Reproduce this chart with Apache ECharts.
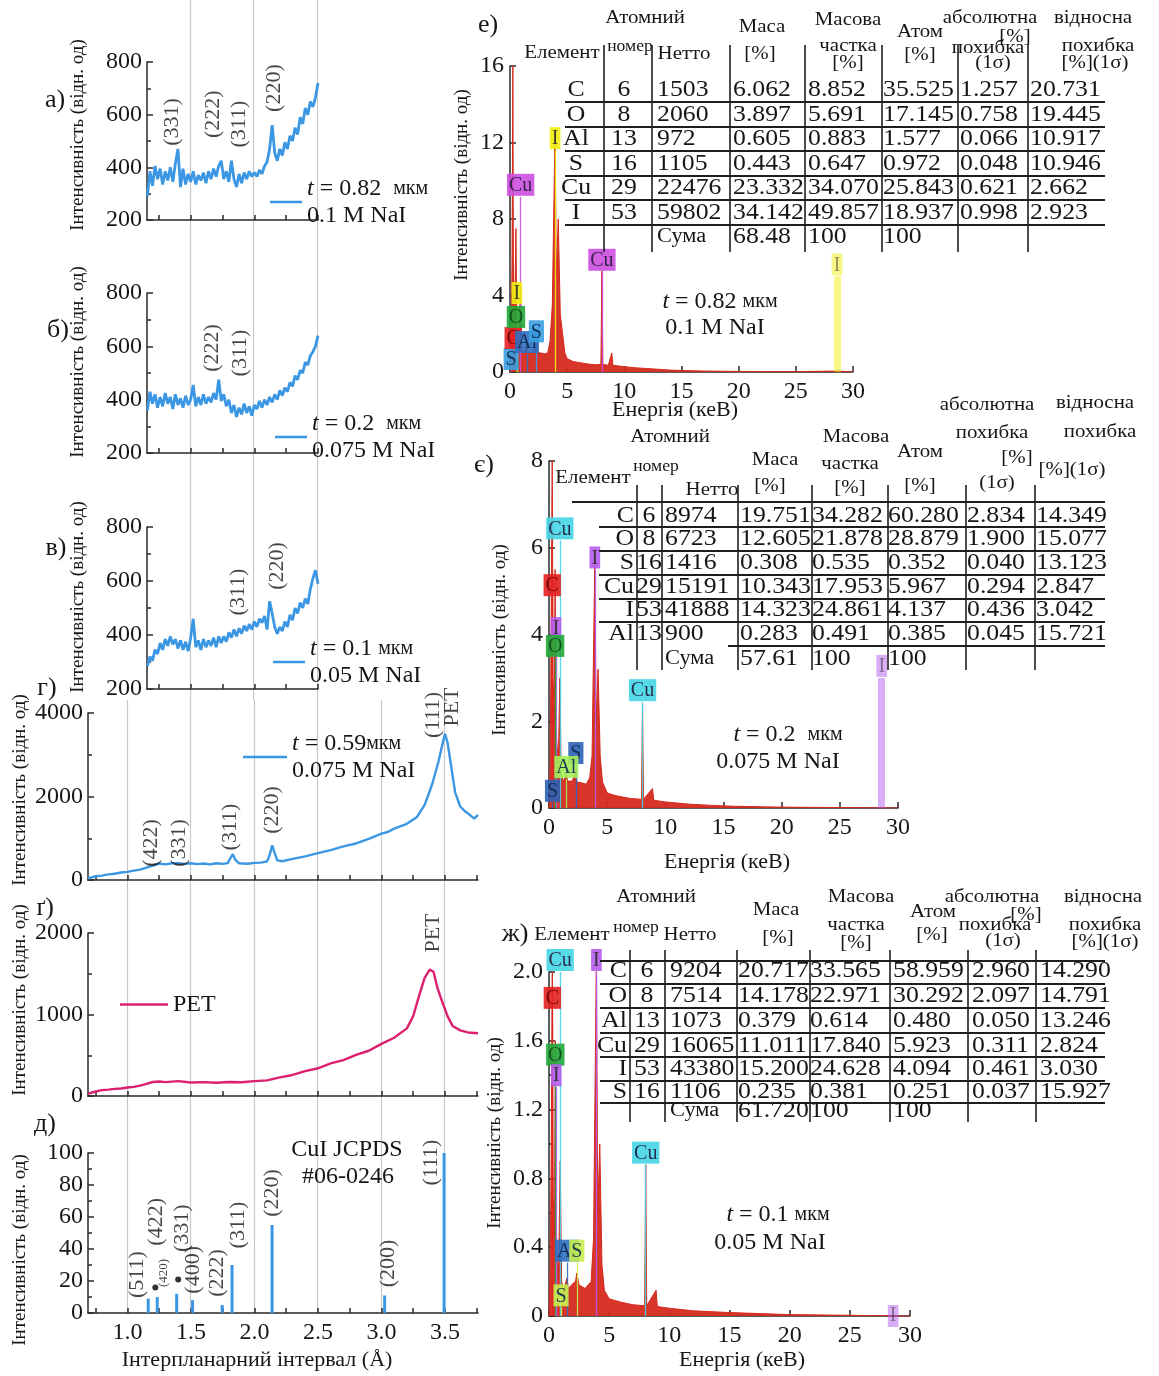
<!DOCTYPE html>
<html>
<head>
<meta charset="utf-8">
<script src="https://cdn.jsdelivr.net/npm/echarts@6/dist/echarts.min.js"></script>
<style>
html,body{margin:0;padding:0;background:#fff;}
#chart{width:1159px;height:1376px;}
</style>
</head>
<body>
<div id="chart"></div>
<script>
// ---------- XRD data (interplanar spacing d, Å) ----------
// films t = 0.82 / 0.2 / 0.1 µm are sampled on a regular d grid
const dGridStart = 1.16, dGridStep = 0.02;
const xrd082 = [290,385,330,405,355,395,335,385,350,400,345,415,470,325,395,335,375,345,385,335,
  370,350,380,340,385,355,395,365,405,425,355,385,345,425,355,325,375,340,380,355,
  385,365,380,365,390,375,405,420,470,560,455,425,470,445,495,470,520,500,550,525,
  590,565,625,600,650,630,665,720];
const xrd02 = [360,430,385,420,370,410,375,425,385,410,365,420,380,405,370,415,380,400,455,375,
  410,380,420,385,410,390,425,400,475,395,420,375,400,350,380,335,370,345,385,350,
  375,340,380,365,395,370,400,380,410,390,420,400,435,415,445,430,465,450,490,475,
  510,500,540,530,565,580,600,640];
const xrd01 = [285,320,305,345,330,370,345,385,360,395,365,385,350,380,345,375,340,390,460,355,
  380,345,385,355,380,360,390,355,395,370,395,375,410,390,420,395,425,405,435,415,
  440,420,450,430,460,445,470,420,525,480,430,405,430,415,450,430,475,455,500,480,
  520,500,535,515,570,610,640,590];
// film t = 0.59 µm and bare PET substrate
const xrd059 = [[0.69,40],[0.75,90],[0.80,105],[0.85,135],[0.90,150],[0.95,180],[1.00,195],[1.05,225],
  [1.10,250],[1.15,295],[1.20,345],[1.25,395],[1.30,375],[1.35,400],[1.40,405],[1.45,385],[1.50,400],
  [1.55,380],[1.60,395],[1.65,375],[1.70,400],[1.75,385],[1.79,405],[1.81,520],[1.83,620],[1.85,480],
  [1.88,400],[1.95,390],[2.00,410],[2.05,415],[2.10,445],[2.12,600],[2.14,830],[2.16,640],[2.18,470],
  [2.22,450],[2.30,505],[2.40,565],[2.50,645],[2.60,715],[2.70,805],[2.80,875],[2.90,985],[3.00,1110],
  [3.05,1150],[3.10,1230],[3.20,1345],[3.28,1510],[3.34,1800],[3.40,2300],[3.45,2850],[3.48,3250],
  [3.50,3500],[3.52,3300],[3.55,2700],[3.58,2100],[3.62,1760],[3.66,1640],[3.70,1550],[3.73,1470],[3.76,1560]];
const xrdPET = [[0.69,30],[0.75,55],[0.80,72],[0.85,78],[0.90,88],[0.95,92],[1.00,105],[1.05,112],
  [1.10,128],[1.15,148],[1.20,172],[1.25,178],[1.30,170],[1.40,182],[1.50,166],[1.60,170],[1.70,162],
  [1.80,172],[1.90,168],[2.00,182],[2.10,192],[2.20,228],[2.30,258],[2.40,305],[2.50,340],[2.60,400],
  [2.70,440],[2.80,505],[2.90,555],[3.00,640],[3.10,715],[3.20,830],[3.25,980],[3.30,1250],[3.34,1450],
  [3.38,1550],[3.41,1525],[3.44,1330],[3.48,1150],[3.52,980],[3.56,860],[3.62,805],[3.68,780],[3.76,770]];
// CuI reference pattern JCPDS #06-0246
const cuiD = [1.164,1.235,1.388,1.513,1.746,1.824,2.139,3.025,3.493];
const cuiI = [9,10,12,8,5,30,55,11,100];
const cuiDots = [[1.22,16],[1.40,21]];

// Miller-index labels: [d, intensity, text]
const peaks082 = [[1.354,572,'(331)'],[1.677,602,'(222)'],[1.882,564,'(311)'],[2.157,701,'(220)']];
const peaks02 = [[1.669,594,'(222)'],[1.890,575,'(311)']];
const peaks01 = [[1.874,559,'(311)'],[2.180,656,'(220)']];
const peaks059 = [[1.185,886,'(422)'],[1.410,886,'(331)'],[1.811,1269,'(311)'],[2.142,1677,'(220)'],[3.410,3952,'(111)'],[3.560,4143,'PET']];
const peaksPET = [[3.410,2000,'PET']];
const peaksCuI = [[1.079,24,'(511)'],[1.228,57,'(422)'],[1.430,53,'(331)'],[1.520,27,'(400)'],[1.710,25,'(222)'],[1.870,55,'(311)'],[2.140,75,'(220)'],[3.050,31,'(200)'],[3.390,94,'(111)']];
const peaksCuISmall = [[1.283,25,'(420)']];

// axis ticks
const dTicksTop = [1.25,1.5,1.75,2.0,2.25,2.5];
const dTicksFull = [0.75,1.0,1.25,1.5,1.75,2.0,2.25,2.5,2.75,3.0,3.25,3.5,3.75];
const dLabelsFull = [1.0,1.5,2.0,2.5,3.0,3.5];

// ---------- EDX spectra [energy keV, intensity] ----------
const edx082 = [[0,0],[0.1,1.5],[0.18,6],[0.25,16.2],[0.3,5],[0.4,2.5],[0.52,7.5],[0.6,2.2],[0.75,1.4],
  [0.93,4.5],[1.02,1.2],[1.2,0.9],[1.49,1.6],[1.6,1.0],[1.8,1.0],[2.0,1.05],[2.31,1.5],[2.4,1.0],[2.7,1.0],
  [3.0,0.95],[3.3,1.0],[3.5,1.6],[3.7,3.5],[3.94,12.6],[4.05,5.0],[4.22,8.0],[4.4,3.0],[4.6,2.0],[4.8,1.0],
  [5.0,0.7],[5.5,0.55],[6,0.5],[6.5,0.45],[7,0.4],[7.6,0.38],[7.95,0.4],[8.04,5.3],[8.12,0.4],[8.6,0.35],
  [8.9,1.0],[9.0,0.35],[10,0.28],[11,0.22],[12,0.18],[13,0.14],[14,0.1],[15,0.08],[17,0.05],[20,0.03],
  [25,0.02],[28.6,0.05],[30,0.01]];
const edx02 = [[0,0],[0.1,1],[0.18,4],[0.277,8.2],[0.35,3],[0.45,2],[0.525,5.5],[0.6,1.8],[0.8,1.0],
  [0.93,3.0],[1.05,0.8],[1.2,0.6],[1.49,0.8],[1.6,0.62],[2.0,0.62],[2.31,0.85],[2.4,0.6],[2.8,0.58],
  [3.2,0.55],[3.5,0.7],[3.7,1.2],[3.94,5.7],[4.05,2.0],[4.22,3.2],[4.4,1.2],[4.6,0.6],[5.0,0.35],[5.5,0.3],
  [6,0.27],[7,0.22],[7.95,0.2],[8.04,2.4],[8.12,0.2],[8.9,0.45],[9.0,0.18],[10,0.14],[12,0.09],[14,0.06],
  [16,0.04],[20,0.02],[25,0.01],[30,0]];
const edx01 = [[0,0],[0.1,0.3],[0.18,0.9],[0.277,2.1],[0.35,0.7],[0.45,0.45],[0.525,1.6],[0.6,0.4],
  [0.8,0.25],[0.93,0.9],[1.05,0.2],[1.2,0.15],[1.49,0.22],[1.6,0.16],[2.0,0.19],[2.2,0.2],[2.31,0.25],
  [2.5,0.18],[3.0,0.16],[3.5,0.2],[3.7,0.45],[3.94,2.1],[4.05,0.6],[4.22,1.0],[4.4,0.3],[4.6,0.15],
  [5.0,0.1],[6,0.08],[7,0.065],[7.95,0.06],[8.04,0.88],[8.12,0.06],[8.9,0.15],[9.0,0.055],[10,0.045],
  [12,0.03],[15,0.02],[20,0.008],[25,0.004],[30,0]];

// element markers: [element, line energy keV, marker height]
const marks082 = [['S',0.10,0.05],['C',0.28,1.15],['Al',1.49,0.94],['S',2.31,1.5],['O',0.52,2.25],
  ['I',0.60,3.5],['Cu',0.93,9.16],['I',3.94,11.6],['Cu',8.04,5.24],['I',28.6,5.0]];
const marks02 = [['Cu',0.93,6.17],['I',3.94,5.5],['C',0.277,4.86],['I',0.60,3.87],['O',0.525,3.46],
  ['Cu',8.04,2.44],['S',2.31,0.99],['Al',1.49,0.67],['S',0.30,0.12],['I',28.6,3.0]];
const marks01 = [['Cu',0.93,2.0],['I',3.94,2.0],['C',0.277,1.78],['O',0.525,1.45],['I',0.60,1.33],
  ['Cu',8.04,0.88],['Al',1.49,0.31],['S',2.31,0.31],['S',1.0,0.05],['I',28.6,0]];

// composition tables
const tableHead = ['Елемент','Атомний','номер','Нетто','Маса','[%]','Масова','частка','[%]','Атом','[%]',
  'абсолютна','похибка','[%]','(1σ)','відносна','похибка','[%](1σ)'];
const table082 = [
  ['C','6','1503','6.062','8.852','35.525','1.257','20.731'],
  ['O','8','2060','3.897','5.691','17.145','0.758','19.445'],
  ['Al','13','972','0.605','0.883','1.577','0.066','10.917'],
  ['S','16','1105','0.443','0.647','0.972','0.048','10.946'],
  ['Cu','29','22476','23.332','34.070','25.843','0.621','2.662'],
  ['I','53','59802','34.142','49.857','18.937','0.998','2.923'],
  ['','','Сума','68.48','100','100','','']];
const table02 = [
  ['C','6','8974','19.751','34.282','60.280','2.834','14.349'],
  ['O','8','6723','12.605','21.878','28.879','1.900','15.077'],
  ['S','16','1416','0.308','0.535','0.352','0.040','13.123'],
  ['Cu','29','15191','10.343','17.953','5.967','0.294','2.847'],
  ['I','53','41888','14.323','24.861','4.137','0.436','3.042'],
  ['Al','13','900','0.283','0.491','0.385','0.045','15.721'],
  ['','','Сума','57.61','100','100','','']];
const table01 = [
  ['C','6','9204','20.717','33.565','58.959','2.960','14.290'],
  ['O','8','7514','14.178','22.971','30.292','2.097','14.791'],
  ['Al','13','1073','0.379','0.614','0.480','0.050','13.246'],
  ['Cu','29','16065','11.011','17.840','5.923','0.311','2.824'],
  ['I','53','43380','15.200','24.628','4.094','0.461','3.030'],
  ['S','16','1106','0.235','0.381','0.251','0.037','15.927'],
  ['','','Сума','61.720','100','100','','']];

// ---------- styling ----------
const SERIF = '"Liberation Serif","Times New Roman","DejaVu Serif",serif';
const INK = '#161616';
const BLUE = '#3b97e3';
const PINK = '#dc1f6e';
const SPEC = '#d52a1e';
const AX = {color:'#2a2a2a', width:1.5};
const GRIDLINE = {color:'#c9c9c9', width:1.2};
const plain = v => String(v);

const grids = [], xAxes = [], yAxes = [], series = [], legends = [];
function addGrid(left, top, width, height){
  grids.push({left, top, width, height, containLabel:false});
  return grids.length - 1;
}

// light vertical d-spacing guides running through the XRD column
const gTop = addGrid(190, 0, 127, 700);
xAxes.push({type:'value', gridIndex:gTop, min:1.5, max:2.5, interval:0.5, axisLine:{show:false}, axisTick:{show:false},
  axisLabel:{show:false}, splitLine:{show:true, showMinLine:true, showMaxLine:true, lineStyle:GRIDLINE}});
yAxes.push({type:'value', gridIndex:gTop, show:false});
const gLow = addGrid(63.5, 700, 444.5, 613);
xAxes.push({type:'value', gridIndex:gLow, min:0.5, max:4.0, interval:0.5, axisLine:{show:false}, axisTick:{show:false},
  axisLabel:{show:false}, splitLine:{show:true, showMinLine:false, showMaxLine:false, lineStyle:GRIDLINE}});
yAxes.push({type:'value', gridIndex:gLow, show:false});

function xrdX(gi, min, max, ticks, labels){
  return {type:'value', gridIndex:gi, min, max,
    axisLine:{show:true, onZero:false, lineStyle:AX},
    axisTick:{show:true, inside:true, length:5, customValues:ticks, lineStyle:AX},
    axisLabel: labels ? {show:true, customValues:labels, formatter:v => v.toFixed(1), fontFamily:SERIF, fontSize:24, color:INK, margin:8}
                      : {show:false},
    splitLine:{show:false}};
}
function xrdY(gi, min, max, interval){
  return {type:'value', gridIndex:gi, min, max, interval,
    axisLine:{show:true, lineStyle:AX},
    axisTick:{show:true, inside:true, length:6, lineStyle:AX},
    minorTick:{show:true, splitNumber:2, length:4, lineStyle:AX},
    axisLabel:{fontFamily:SERIF, fontSize:24, color:INK, margin:5, formatter:plain},
    splitLine:{show:false}};
}
function peakLabels(gi, list, size){
  return {type:'scatter', xAxisIndex:gi, yAxisIndex:gi, clip:false, silent:true, symbolSize:1,
    itemStyle:{color:'rgba(0,0,0,0)'},
    data:list.map(p => ({value:[p[0], p[1]], name:p[2]})),
    label:{show:true, position:'inside', rotate:90, formatter:'{b}', fontFamily:SERIF, fontSize:size || 22, color:INK},
    z:5};
}
const gridPts = vals => vals.map((v, i) => [+(dGridStart + i * dGridStep).toFixed(2), v]);
function xrdLine(gi, name, data, color, w){
  return {type:'line', name, xAxisIndex:gi, yAxisIndex:gi, data, showSymbol:false, silent:true,
    lineStyle:{color, width:w || 2.2}, itemStyle:{color}, z:3};
}
const legendRich = {
  i:{fontFamily:SERIF, fontSize:24, fontStyle:'italic', color:INK, lineHeight:27},
  s:{fontFamily:SERIF, fontSize:20, color:INK, lineHeight:27},
  n:{fontFamily:SERIF, fontSize:24, color:INK, lineHeight:27}
};
function addLegend(seriesName, left, top, width, text){
  legends.push({data:[seriesName], left, top, icon:'rect', itemWidth:width, itemHeight:2.5, selectedMode:false,
    formatter:() => text,
    textStyle:{fontFamily:SERIF, fontSize:24, color:INK, lineHeight:27, rich:legendRich}});
}

// а) t = 0.82 µm
const gA = addGrid(147, 62, 171, 158);
xAxes.push(xrdX(gA, 1.157, 2.5, dTicksTop, null));
yAxes.push(xrdY(gA, 200, 800, 200));
series.push(xrdLine(gA, 'f082', gridPts(xrd082), BLUE, 2.8));
series.push(peakLabels(gA, peaks082));
addLegend('f082', 265, 170, 32, '{i|t} = 0.82  {s|мкм}\n{n|0.1 M NaI}');

// б) t = 0.2 µm
const gB = addGrid(147, 293, 171, 160);
xAxes.push(xrdX(gB, 1.157, 2.5, dTicksTop, null));
yAxes.push(xrdY(gB, 200, 800, 200));
series.push(xrdLine(gB, 'f02', gridPts(xrd02), BLUE, 2.8));
series.push(peakLabels(gB, peaks02));
addLegend('f02', 270, 405, 32, '{i|t} = 0.2  {s|мкм}\n{n|0.075 M NaI}');

// в) t = 0.1 µm
const gC = addGrid(147, 527, 171, 162);
xAxes.push(xrdX(gC, 1.157, 2.5, dTicksTop, null));
yAxes.push(xrdY(gC, 200, 800, 200));
series.push(xrdLine(gC, 'f01', gridPts(xrd01), BLUE, 2.8));
series.push(peakLabels(gC, peaks01));
addLegend('f01', 268, 630, 32, '{i|t} = 0.1 {s|мкм}\n{n|0.05 M NaI}');

// г) t = 0.59 µm
const gD = addGrid(88, 713, 390, 167);
xAxes.push(xrdX(gD, 0.69, 3.76, dTicksFull, null));
yAxes.push(xrdY(gD, 0, 4000, 2000));
series.push(xrdLine(gD, 'f059', xrd059, BLUE, 2.4));
series.push(peakLabels(gD, peaks059));
addLegend('f059', 238, 725, 44, '{i|t} = 0.59{s|мкм}\n{n|0.075 M NaI}');

// ґ) PET substrate
const gE = addGrid(88, 933, 390, 163);
xAxes.push(xrdX(gE, 0.69, 3.76, dTicksFull, null));
yAxes.push(xrdY(gE, 0, 2000, 1000));
series.push(xrdLine(gE, 'pet', xrdPET, PINK, 2.4));
series.push(peakLabels(gE, peaksPET));
addLegend('pet', 115, 986, 48, '{n|PET}');

// д) CuI stick pattern
const gF = addGrid(88, 1153, 390, 160);
xAxes.push(xrdX(gF, 0.69, 3.76, dTicksFull, dLabelsFull));
yAxes.push(xrdY(gF, 0, 100, 20));
series.push({type:'bar', xAxisIndex:gF, yAxisIndex:gF, silent:true, barWidth:3,
  data:cuiD.map((d, i) => [d, cuiI[i]]), itemStyle:{color:BLUE}, z:3});
series.push({type:'scatter', xAxisIndex:gF, yAxisIndex:gF, silent:true, symbolSize:6, data:cuiDots, itemStyle:{color:'#000'}, z:6});
series.push(peakLabels(gF, peaksCuI));
series.push(peakLabels(gF, peaksCuISmall, 13));

// ---------- EDX panels ----------
const pal082 = {S:'#3a9ee0', C:'#e42020', Al:'#2f6fc0', O:'#22a83a', I:'#f2ee10', Cu:'#cc4fe0'};
const pal02  = {S:'#2c62b4', C:'#e42020', Al:'#a5ef5a', O:'#22a83a', I:'#b65cf0', Cu:'#45d6e6'};
const pal01  = {S:'#c9ef4e', C:'#e42020', Al:'#2f6fc0', O:'#22a83a', I:'#b65cf0', Cu:'#45d6e6'};
const markText = {S:'#0c2850', C:'#6a0000', Al:'#0c2850', O:'#0b4a16', I:'#2a2a2a', Cu:'#24183a'};

function edxAxes(gi, yMax, yInt, yFmt, minor){
  xAxes.push({type:'value', gridIndex:gi, min:0, max:30, interval:5,
    axisLine:{show:true, onZero:false, lineStyle:AX},
    axisTick:{show:true, inside:true, length:6, lineStyle:AX},
    axisLabel:{fontFamily:SERIF, fontSize:24, color:INK, margin:8},
    splitLine:{show:false}});
  yAxes.push({type:'value', gridIndex:gi, min:0, max:yMax, interval:yInt,
    axisLine:{show:true, lineStyle:AX},
    axisTick:{show:true, inside:true, length:6, lineStyle:AX},
    minorTick:{show:!!minor, splitNumber:2, length:4, lineStyle:AX},
    axisLabel:{fontFamily:SERIF, fontSize:24, color:INK, margin:6, formatter:yFmt || plain},
    splitLine:{show:false}});
}
function edxSeries(gi, data, marks, pal){
  return {type:'line', xAxisIndex:gi, yAxisIndex:gi, data, showSymbol:false, silent:true,
    lineStyle:{color:SPEC, width:1}, areaStyle:{color:SPEC, opacity:0.95}, z:2,
    markLine:{silent:true, symbol:['none','none'], animation:false,
      data:marks.map(([el, e, h]) => {
        const wide = e > 20;
        return [{coord:[e, 0],
          lineStyle:{color:pal[el], width:wide ? 7 : 1.3, opacity:wide ? 0.5 : 0.9, type:'solid'},
          label:{show:true, position:'end', distance:1, formatter:el, backgroundColor:pal[el],
            color:markText[el], padding:[2,2,0,2], fontFamily:SERIF, fontSize:20, lineHeight:20}},
          {coord:[e, h]}];
      })}};
}
// е) t = 0.82 µm
const gG = addGrid(510, 66, 343, 306);
edxAxes(gG, 16, 4, null, false);
series.push(edxSeries(gG, edx082, marks082, pal082));
// є) t = 0.2 µm
const gH = addGrid(549, 461, 349, 347);
edxAxes(gH, 8, 2, null, false);
series.push(edxSeries(gH, edx02, marks02, pal02));
// ж) t = 0.1 µm
const gI = addGrid(549, 972, 361, 344);
edxAxes(gI, 2, 0.4, v => v === 0 ? '0' : v.toFixed(1), true);
series.push(edxSeries(gI, edx01, marks01, pal01));

// ---------- free text and tables ----------
const G = [];
function txt(x, y, text, o){
  o = o || {};
  G.push({type:'text', x, y, rotation:o.rot || 0, scaleX:o.sx || 1, silent:true, z:10,
    style:{text, fontFamily:SERIF, fontSize:o.size || 22, fontStyle:o.italic ? 'italic' : 'normal',
      fill:INK, align:o.align || 'center', verticalAlign:'middle', rich:o.rich}});
}
function hline(x1, x2, y, w){ G.push({type:'line', silent:true, z:9, shape:{x1, y1:y, x2, y2:y}, style:{stroke:'#1e1e1e', lineWidth:w || 2.2}}); }
function vline(x, y1, y2){ G.push({type:'line', silent:true, z:9, shape:{x1:x, y1, x2:x, y2}, style:{stroke:'#1e1e1e', lineWidth:1.6}}); }

// panel letters
[['а)',55,100],['б)',58,330],['в)',56,548],['г)',47,688],['ґ)',45,908],['д)',45,1124],['е)',488,25],['є)',484,465]]
  .forEach(([t, x, y]) => txt(x, y, t, {size:26}));

// axis titles
const yTitle = 'Інтенсивність (відн. од)';
[[78,135],[78,362],[78,597],[20,790],[20,1000],[20,1250],[462,185],[500,640],[495,1133]]
  .forEach(([x, y]) => txt(x, y, yTitle, {rot:Math.PI / 2, size:19}));
txt(257, 1360, 'Інтерпланарний інтервал (Å)', {size:22});
[[675,410],[727,862],[742,1360]].forEach(([x, y]) => txt(x, y, 'Енергія (кеВ)', {size:22}));

// reference card caption
txt(347, 1150, 'CuI JCPDS', {size:24});
txt(348, 1177, '#06-0246', {size:24});

// EDX sample captions
const capRich = {i:{fontFamily:SERIF, fontSize:24, fontStyle:'italic', fill:INK},
                 s:{fontFamily:SERIF, fontSize:20, fill:INK}};
[[720,302,'{i|t} = 0.82 {s|мкм}'],[715,328,'0.1 M NaI'],
 [788,735,'{i|t} = 0.2  {s|мкм}'],[778,762,'0.075 M NaI'],
 [778,1215,'{i|t} = 0.1 {s|мкм}'],[770,1243,'0.05 M NaI']]
  .forEach(([x, y, t]) => txt(x, y, t, {size:24, rich:capRich}));

function drawTable(rows, cols, rowY, headPos, lines){
  rows.forEach((r, ri) => r.forEach((cell, ci) => {
    if (!cell) return;
    txt(cols[ci][0], rowY[ri], cell, {size: cell === 'Сума' ? 20 : 23, align:cols[ci][1], sx:1.12});
  }));
  tableHead.forEach((h, i) => {
    const p = headPos[i];
    txt(p[0], p[1], h, {size: h === 'номер' ? 16 : 19, sx:1.1});
  });
  lines.h.forEach(([y, x1]) => hline(x1, lines.x2, y));
  lines.v.forEach(x => vline(x, lines.y1, lines.y2));
}

drawTable(table082,
  [[576,'center'],[624,'center'],[657,'left'],[733,'left'],[808,'left'],[883,'left'],[960,'left'],[1030,'left']],
  [90,115,139,164,188,213,237],
  [[562,53],[645,18],[630,47],[684,54],[762,27],[760,54],[848,20],[848,46],[848,63],[920,32],[920,55],
   [990,18],[988,48],[1015,37],[993,63],[1093,18],[1098,46],[1095,63]],
  {h:[[102,565],[127,565],[151,565],[176,565],[200,565],[225,565]], x2:1105,
   v:[604,652,730,805,882,958,1028], y1:45, y2:252});

drawTable(table02,
  [[634,'right'],[649,'center'],[665,'left'],[740,'left'],[812,'left'],[888,'left'],[967,'left'],[1036,'left']],
  [516,539,563,587,610,634,659],
  [[593,478],[670,437],[656,467],[712,490],[775,460],[770,486],[856,437],[850,464],[850,488],[920,452],[920,486],
   [987,405],[992,433],[1017,458],[997,483],[1095,403],[1100,432],[1072,470]],
  {h:[[502,572],[527,599],[551,599],[575,599],[599,599],[622,599],[646,728]], x2:1105,
   v:[637,662,738,812,888,966,1035], y1:485, y2:670});

txt(515, 934, 'ж)', {size:26});
drawTable(table01,
  [[627,'right'],[647,'center'],[670,'left'],[738,'left'],[810,'left'],[893,'left'],[972,'left'],[1040,'left']],
  [971,996,1021,1046,1069,1092,1111],
  [[572,935],[656,897],[636,928],[690,935],[776,910],[778,938],[861,897],[856,925],[856,943],[933,912],[932,935],
   [992,897],[995,925],[1026,915],[1003,941],[1103,897],[1105,925],[1105,942]],
  {h:[[961,600],[984,600],[1008,600],[1033,600],[1057,600],[1081,600],[1103,600]], x2:1105,
   v:[630,665,737,810,890,968,1036], y1:950, y2:1122});

const chart = echarts.init(document.getElementById('chart'), null, {renderer:'canvas'});
chart.setOption({
  animation:false,
  backgroundColor:'#fff',
  grid:grids, xAxis:xAxes, yAxis:yAxes, series, legend:legends,
  graphic:{elements:G}
});
</script>
</body>
</html>
